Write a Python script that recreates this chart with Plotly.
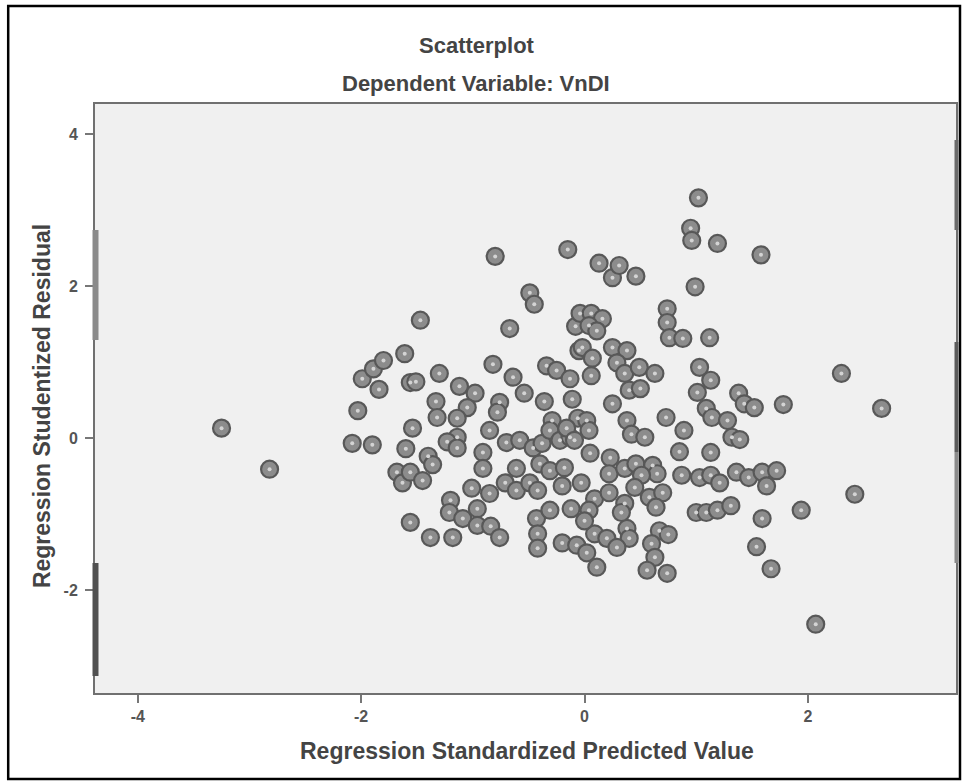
import plotly.graph_objects as go

# Regression Standardized Predicted Value (x) and Regression Studentized Residual (y)
pred = [
    -3.25, -2.82, -2.08, -1.90, -2.03, -1.99, -1.89, -1.80, -1.84, -1.61,
    -1.56, -1.51, -1.47, -1.54, -1.60, -1.68, -1.63, -1.56, -1.45, -1.40,
    -1.36, -1.33, -1.32, -1.56, -1.38, -1.18, -1.20, -1.21, -1.09, -0.96,
    -0.96, -0.84, -0.76, -1.01, -0.85, -1.30, -1.12, -0.98, -1.05, -1.14,
    -1.14, -1.23, -1.14, -0.91, -0.91, -0.85, -0.82, -0.76, -0.78, -0.67,
    -0.80, -0.49, -0.45, -0.15, -0.08, -0.05, -0.64, -0.54, -0.34, -0.25,
    -0.13, -0.36, -0.11, -0.29, -0.06, -0.70, -0.58, -0.46, -0.38, -0.31,
    -0.22, -0.13, -0.16, -0.61, -0.71, -0.61, -0.49, -0.42, -0.40, -0.31,
    -0.18, -0.20, -0.43, -0.42, -0.42, -0.31, -0.12, -0.20, -0.07, -0.04,
    0.06, 0.16, 0.04, -0.02, 0.07, 0.25, 0.38, 0.29, 0.36, 0.06,
    0.49, 0.63, 0.13, 0.25, 0.31, 0.46, 0.74, 0.74, 0.76, 0.88,
    1.12, 0.99, 1.02, 0.95, 0.96, 1.19, 1.58, 1.03, 1.13, 1.01,
    0.40, 0.50, 0.25, 1.09, 1.14, 1.28, 1.38, 1.43, 0.73, 0.38,
    0.02, 0.89, 0.04, 0.42, 0.54, 1.32, 1.39, -0.09, 0.05, 0.23,
    0.22, 0.36, 0.46, 0.61, 0.65, 0.51, 0.85, 1.13, 0.87, 1.03,
    1.13, 1.21, 1.36, 1.47, 1.59, 1.72, 1.63, -0.03, 0.09, 0.22,
    0.36, 0.58, 0.70, 0.64, 0.04, 0.09, 0.20, 0.38, 0.40, 0.29,
    0.02, 0.11, 0.67, 0.75, 0.60, 0.63, 0.56, 0.74, 1.00, 1.09,
    1.19, 1.31, 1.59, 1.54, 1.67, 1.94, 2.42, 2.07, 2.30, 2.66,
    1.78, 1.52, 0.45, 0.33, 0.00, 0.11,
]
resid = [
    0.13, -0.41, -0.07, -0.09, 0.36, 0.78, 0.91, 1.02, 0.64, 1.11,
    0.73, 0.74, 1.55, 0.13, -0.14, -0.45, -0.59, -0.45, -0.56, -0.24,
    -0.35, 0.48, 0.27, -1.11, -1.31, -1.31, -0.82, -0.98, -1.06, -0.93,
    -1.15, -1.16, -1.31, -0.66, -0.73, 0.85, 0.68, 0.59, 0.40, 0.26,
    0.01, -0.05, -0.13, -0.19, -0.40, 0.10, 0.97, 0.47, 0.34, 1.44,
    2.39, 1.91, 1.76, 2.48, 1.47, 1.15, 0.80, 0.59, 0.95, 0.89,
    0.78, 0.48, 0.51, 0.23, 0.26, -0.06, -0.03, -0.13, -0.07, 0.10,
    -0.03, 0.01, 0.13, -0.40, -0.59, -0.69, -0.59, -0.69, -0.34, -0.43,
    -0.39, -0.63, -1.06, -1.26, -1.45, -0.95, -0.93, -1.38, -1.41, 1.64,
    1.64, 1.57, 1.48, 1.19, 1.05, 1.19, 1.15, 0.99, 0.85, 0.82,
    0.93, 0.85, 2.30, 2.11, 2.27, 2.13, 1.70, 1.52, 1.32, 1.31,
    1.32, 1.99, 3.16, 2.76, 2.60, 2.56, 2.41, 0.93, 0.76, 0.60,
    0.63, 0.65, 0.45, 0.39, 0.27, 0.23, 0.59, 0.45, 0.27, 0.23,
    0.23, 0.10, 0.10, 0.05, 0.01, 0.01, -0.02, -0.03, -0.20, -0.26,
    -0.47, -0.40, -0.34, -0.36, -0.47, -0.49, -0.18, -0.19, -0.49, -0.52,
    -0.49, -0.59, -0.45, -0.52, -0.45, -0.43, -0.63, -0.59, -0.80, -0.72,
    -0.86, -0.78, -0.72, -0.91, -0.95, -1.26, -1.32, -1.19, -1.32, -1.44,
    -1.51, -1.70, -1.22, -1.27, -1.39, -1.57, -1.74, -1.78, -0.98, -0.98,
    -0.95, -0.89, -1.06, -1.43, -1.72, -0.95, -0.74, -2.45, 0.85, 0.39,
    0.44, 0.40, -0.65, -0.98, -1.09, 1.41,
]

x_ticks = [-4, -2, 0, 2]
y_ticks = [-2, 0, 2, 4]

title_main = "Scatterplot"
title_sub = "Dependent Variable: VnDI"
x_title = "Regression Standardized Predicted Value"
y_title = "Regression Studentized Residual"

W, H = 966, 783
L, R, T, B = 95, 958, 104, 693  # plot area in pixels
pw, ph = R - L, B - T


def px(v):
    return (v - L) / pw


def py(v):
    return (B - v) / ph


FONT = "Liberation Sans, Arial, sans-serif"
TXT = "#444444"

fig = go.Figure()
fig.add_trace(go.Scatter(
    x=pred, y=resid, mode="markers",
    marker=dict(symbol="circle", size=17, color="#8c8c8c",
                line=dict(color="#585858", width=2.2)),
    hoverinfo="x+y", showlegend=False,
))
fig.add_trace(go.Scatter(
    x=pred, y=resid, mode="markers",
    marker=dict(symbol="circle", size=4, color="#d4d4d4", line=dict(width=0)),
    hoverinfo="skip", showlegend=False,
))

shapes = [
    # outer black frame
    dict(type="rect", xref="paper", yref="paper",
         x0=px(8), x1=px(962), y0=py(779), y1=py(6),
         line=dict(color="black", width=2.5), layer="below"),
    # axis-edge artifacts
    dict(type="rect", xref="paper", yref="paper", x0=px(92.5), x1=px(98.5),
         y0=py(340), y1=py(230), line=dict(width=0), fillcolor="#8a8a8a"),
    dict(type="rect", xref="paper", yref="paper", x0=px(92.5), x1=px(98.5),
         y0=py(676), y1=py(563), line=dict(width=0), fillcolor="#505050"),
    dict(type="rect", xref="paper", yref="paper", x0=px(956.5), x1=px(960.5),
         y0=py(230), y1=py(140), line=dict(width=0), fillcolor="#6a6a6a"),
    dict(type="rect", xref="paper", yref="paper", x0=px(956.5), x1=px(960.5),
         y0=py(452), y1=py(342), line=dict(width=0), fillcolor="#5a5a5a"),
    dict(type="rect", xref="paper", yref="paper", x0=px(956.5), x1=px(960.5),
         y0=py(563), y1=py(452), line=dict(width=0), fillcolor="#8a8a8a"),
]

annotations = [
    dict(text="<b>" + title_main + "</b>", x=px(478), y=py(45), xref="paper", yref="paper",
         showarrow=False, font=dict(family=FONT, size=22, color=TXT),
         xanchor="center", yanchor="middle"),
    dict(text="<b>" + title_sub + "</b>", x=px(477), y=py(83), xref="paper", yref="paper",
         showarrow=False, font=dict(family=FONT, size=22, color=TXT),
         xanchor="center", yanchor="middle"),
    dict(text="<b>" + x_title + "</b>", x=px(528), y=py(751), xref="paper", yref="paper",
         showarrow=False, font=dict(family=FONT, size=23, color=TXT),
         xanchor="center", yanchor="middle"),
    dict(text="<b>" + y_title + "</b>", x=px(42), y=py(406), xref="paper", yref="paper",
         showarrow=False, textangle=-90, font=dict(family=FONT, size=23, color=TXT),
         xanchor="center", yanchor="middle"),
]

fig.update_layout(
    width=W, height=H,
    margin=dict(l=L, r=W - R, t=T, b=H - B, pad=0),
    paper_bgcolor="white", plot_bgcolor="#f0f0f0",
    shapes=shapes, annotations=annotations,
    font=dict(family=FONT, color=TXT),
)
fig.update_xaxes(
    range=[-4.383, 3.326], tickvals=x_ticks, ticktext=["<b>%d</b>" % v for v in x_ticks],
    showgrid=False, zeroline=False, showline=True, mirror=True,
    linecolor="#707070", linewidth=2, ticks="outside", ticklen=8,
    tickwidth=1.5, tickcolor="#777",
    tickfont=dict(family=FONT, size=16, color="#555"),
)
fig.update_yaxes(
    range=[-3.355, 4.395], tickvals=y_ticks, ticktext=["<b>%d</b>" % v for v in y_ticks],
    showgrid=False, zeroline=False, showline=True, mirror=True,
    linecolor="#707070", linewidth=2, ticks="outside", ticklen=8,
    tickwidth=1.5, tickcolor="#777", ticklabelstandoff=4,
    tickfont=dict(family=FONT, size=16, color="#555"),
)

fig.write_html("out.html")
